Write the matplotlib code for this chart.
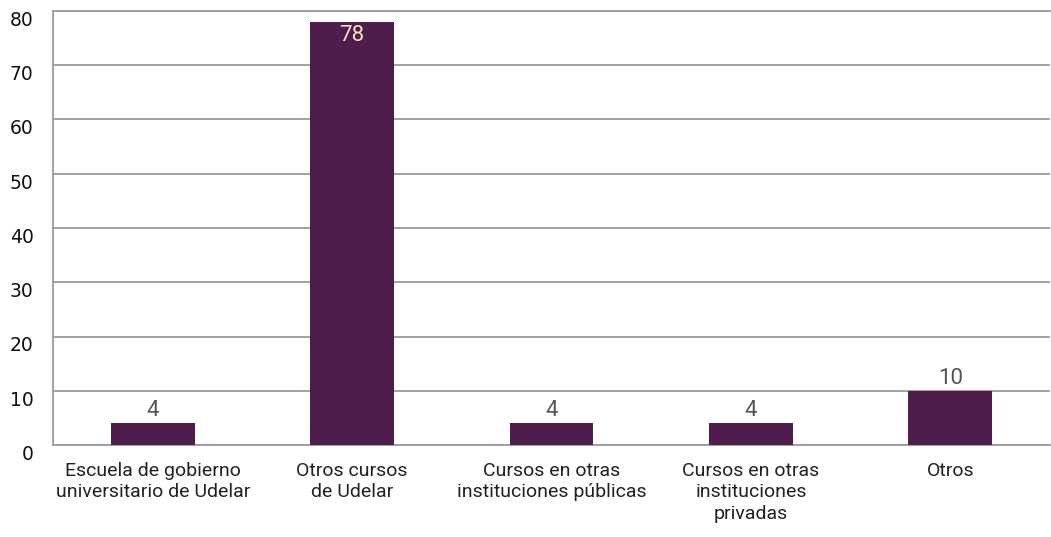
import matplotlib
matplotlib.use("Agg")
import matplotlib.pyplot as plt

categories = ["Escuela de gobierno\nuniversitario de Udelar", "Otros cursos\nde Udelar",
              "Cursos en otras\ninstituciones públicas", "Cursos en otras\ninstituciones\nprivadas", "Otros"]
values = [4, 78, 4, 4, 10]
yticks = [0, 10, 20, 30, 40, 50, 60, 70, 80]

W, H = 1051, 537
fig = plt.figure(figsize=(W/100, H/100), dpi=100)
ax = fig.add_axes([53/W, 1-445/H, (1050-53)/W, (445-11)/H])

bar_color = "#4F1C4B"
grid_color = "#9a9a9a"
x = list(range(len(categories)))
ax.bar(x, values, width=0.42, color=bar_color, zorder=3)
ax.set_xlim(-0.5, len(categories)-0.5)
ax.set_ylim(0, 80)
ax.set_yticks(yticks)
ax.set_yticklabels([str(v) for v in yticks], fontsize=13.5, family="DejaVu Sans", color="#111111", va="top")
ax.set_xticks(x)
ax.set_xticklabels(categories, fontsize=14, family="Roboto", color="#222222", linespacing=1.25)
ax.tick_params(axis="both", length=0)
ax.tick_params(axis="x", pad=12)
ax.tick_params(axis="y", pad=14)
ax.yaxis.grid(True, color=grid_color, linewidth=1.3, zorder=0)
ax.spines["right"].set_visible(False)
for s in ["left", "bottom", "top"]:
    ax.spines[s].set_color(grid_color)
    ax.spines[s].set_linewidth(1.3)

for xi, v in zip(x, values):
    if v > 40:
        ax.text(xi, v - 0.5, str(v), ha="center", va="top", fontsize=16, family="Roboto", color="#F3E3C3", zorder=4)
    else:
        ax.text(xi, v + 0.4, str(v), ha="center", va="bottom", fontsize=16, family="Roboto", color="#555555", zorder=4)

fig.savefig("out.png", dpi=100)
